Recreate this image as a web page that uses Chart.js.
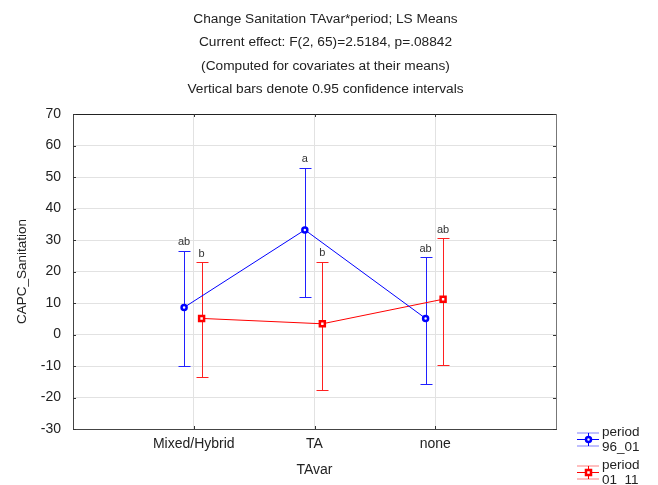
<!DOCTYPE html>
<html>
<head>
<meta charset="utf-8">
<script src="https://cdn.jsdelivr.net/npm/chart.js@4/dist/chart.umd.min.js"></script>
<style>
  html, body { margin: 0; padding: 0; background: #fff; }
  #c { display: block; }
</style>
</head>
<body>
<canvas id="c" width="658" height="485"></canvas>
<script>
// ---- data ----
const categories = ['Mixed/Hybrid', 'TA', 'none'];
const seriesNames = ['period\n96_01', 'period\n01_11'];
const mean96 = [8.6, 33.2, 5.1];
const low96  = [-9.9, 12.0, -15.7];
const high96 = [26.6, 53.0, 24.5];
const letters96 = ['ab', 'a', 'ab'];
const mean01 = [5.1, 3.4, 11.2];
const low01  = [-13.6, -17.6, -9.7];
const high01 = [22.9, 23.1, 30.5];
const letters01 = ['b', 'b', 'ab'];
const yTicks = [-30, -20, -10, 0, 10, 20, 30, 40, 50, 60, 70];
const titleLines = [
  'Change Sanitation TAvar*period; LS Means',
  'Current effect: F(2, 65)=2.5184, p=.08842',
  '(Computed for covariates at their means)',
  'Vertical bars denote 0.95 confidence intervals'
];

// ---- styling ----
const FONT = "'Liberation Sans', Arial, sans-serif";
const BLUE = '#0000ff';
const RED = '#ff0000';
const OFF96 = -0.08, OFF01 = 0.065;

function pts(means, off) { return means.map((m, i) => ({ x: i + 1 + off, y: m })); }

const errorBars = [
  { low: low96, high: high96, letters: letters96, color: '#2020ff', off: OFF96 },
  { low: low01, high: high01, letters: letters01, color: '#ff2020', off: OFF01 }
];

const errorBarPlugin = {
  id: 'errorBars',
  beforeDatasetsDraw(chart) {
    const { ctx, scales: { x, y } } = chart;
    ctx.save();
    ctx.lineWidth = 1;
    errorBars.forEach(eb => {
      ctx.strokeStyle = eb.color;
      eb.low.forEach((lo, i) => {
        const px = Math.round(x.getPixelForValue(i + 1 + eb.off)) + 0.5;
        const yl = Math.round(y.getPixelForValue(lo)) + 0.5;
        const yh = Math.round(y.getPixelForValue(eb.high[i])) + 0.5;
        ctx.beginPath();
        ctx.moveTo(px, yl); ctx.lineTo(px, yh);
        ctx.moveTo(px - 6, yl); ctx.lineTo(px + 6, yl);
        ctx.moveTo(px - 6, yh); ctx.lineTo(px + 6, yh);
        ctx.stroke();
      });
    });
    ctx.restore();
  },
  afterDatasetsDraw(chart) {
    const { ctx, scales: { x, y } } = chart;
    ctx.save();
    ctx.fillStyle = '#333';
    ctx.font = '11px ' + FONT;
    ctx.textAlign = 'center';
    ctx.textBaseline = 'bottom';
    errorBars.forEach(eb => {
      eb.letters.forEach((t, i) => {
        const px = x.getPixelForValue(i + 1 + eb.off);
        const yh = y.getPixelForValue(eb.high[i]);
        ctx.fillText(t, px, yh - 3);
      });
    });
    ctx.restore();
  }
};

const framePlugin = {
  id: 'frame',
  afterDraw(chart) {
    const { ctx, chartArea: a, scales: { x, y } } = chart;
    ctx.save();
    ctx.lineWidth = 1;
    ctx.strokeStyle = '#222';
    ctx.beginPath(); ctx.moveTo(a.left, Math.round(a.top) + 0.5); ctx.lineTo(a.right + 1, Math.round(a.top) + 0.5); ctx.stroke();
    ctx.strokeStyle = '#777';
    ctx.beginPath(); ctx.moveTo(Math.round(a.right) + 0.5, a.top); ctx.lineTo(Math.round(a.right) + 0.5, a.bottom); ctx.stroke();
    ctx.strokeStyle = '#333';
    ctx.beginPath();
    y.ticks.forEach(t => {
      const py = Math.round(y.getPixelForValue(t.value)) + 0.5;
      ctx.moveTo(a.right - 3, py); ctx.lineTo(a.right, py);
      ctx.moveTo(a.left, py); ctx.lineTo(a.left + 3, py);
    });
    x.ticks.forEach(t => {
      const px = Math.round(x.getPixelForValue(t.value)) + 0.5;
      ctx.moveTo(px, a.bottom - 3); ctx.lineTo(px, a.bottom);
      ctx.moveTo(px, a.top); ctx.lineTo(px, a.top + 3);
    });
    ctx.stroke();
    ctx.restore();
  }
};

const legendPlugin = {
  id: 'customLegend',
  afterDraw(chart) {
    const { ctx } = chart;
    ctx.save();
    ctx.font = '13.5px ' + FONT;
    ctx.textBaseline = 'middle';
    ctx.textAlign = 'left';
    chart.data.datasets.forEach((ds, k) => {
      const cy = 439 + k * 33;
      const x0 = 577, x1 = 599, mx = 588;
      ctx.globalAlpha = 0.5;
      ctx.strokeStyle = ds.borderColor;
      ctx.lineWidth = 1;
      ctx.beginPath();
      ctx.moveTo(x0, cy - 6); ctx.lineTo(x1, cy - 6);
      ctx.moveTo(x0, cy + 7); ctx.lineTo(x1, cy + 7);
      ctx.stroke();
      ctx.globalAlpha = 1;
      ctx.beginPath();
      ctx.moveTo(x0, cy + 0.5); ctx.lineTo(x1, cy + 0.5);
      ctx.moveTo(mx + 0.5, cy - 6); ctx.lineTo(mx + 0.5, cy + 7);
      ctx.stroke();
      ctx.lineWidth = 2.5;
      ctx.fillStyle = '#fff';
      ctx.beginPath();
      if (ds.pointStyle === 'rect') {
        ctx.rect(mx + 0.5 - 2.5, cy + 0.5 - 2.5, 5, 5);
      } else {
        ctx.arc(mx + 0.5, cy + 0.5, 2.5, 0, Math.PI * 2);
      }
      ctx.fill(); ctx.stroke();
      ctx.fillStyle = '#222';
      const lines = ds.label.split('\n');
      lines.forEach((ln, j) => ctx.fillText(ln, 602, cy - 7 + j * 15));
    });
    ctx.restore();
  }
};

new Chart(document.getElementById('c'), {
  type: 'line',
  data: {
    datasets: [
      {
        label: seriesNames[0],
        data: pts(mean96, OFF96),
        borderColor: BLUE, backgroundColor: '#fff',
        borderWidth: 1, pointStyle: 'circle',
        pointRadius: 2.5, pointBorderWidth: 2.5, pointBackgroundColor: '#fff',
        pointBorderColor: BLUE, tension: 0
      },
      {
        label: seriesNames[1],
        data: pts(mean01, OFF01),
        borderColor: RED, backgroundColor: '#fff',
        borderWidth: 1, pointStyle: 'rect',
        pointRadius: 3.5, pointBorderWidth: 2.5, pointBackgroundColor: '#fff',
        pointBorderColor: RED, tension: 0
      }
    ]
  },
  options: {
    responsive: false,
    animation: false,
    events: [],
    layout: { padding: { left: 0, right: 7, top: 0, bottom: 0 } },
    plugins: {
      legend: { display: false },
      tooltip: { enabled: false },
      title: {
        display: true,
        text: titleLines,
        color: '#222',
        font: { family: FONT, size: 13.7, weight: 'normal', lineHeight: 23.5 / 13.7 },
        padding: { top: 7, bottom: 13 }
      }
    },
    scales: {
      x: {
        type: 'linear',
        min: 0, max: 4,
        afterBuildTicks: s => { s.ticks = categories.map((c, i) => ({ value: i + 1 })); },
        afterFit: s => { s.height = 56; },
        ticks: {
          callback: v => categories[v - 1],
          color: '#222', font: { family: FONT, size: 14 }, padding: 7, maxRotation: 0, autoSkip: false
        },
        grid: { color: '#e2e2e2', drawTicks: false },
        border: { color: '#444', width: 1 },
        title: { display: true, text: 'TAvar', color: '#222', font: { family: FONT, size: 14 }, padding: { top: 0, bottom: 6 } }
      },
      y: {
        min: -30, max: 70,
        afterBuildTicks: s => { s.ticks = yTicks.map(v => ({ value: v })); },
        afterFit: s => { s.width = 73; },
        ticks: { color: '#222', font: { family: FONT, size: 14 }, padding: 12 },
        grid: { color: '#e2e2e2', drawTicks: false },
        border: { color: '#444', width: 1 },
        title: { display: true, text: 'CAPC_Sanitation', color: '#222', font: { family: FONT, size: 13.5 }, padding: { top: 14, bottom: 0 } }
      },
      yRightSpace: {
        position: 'right',
        display: true,
        min: 0, max: 1,
        afterFit: s => { s.width = 95; },
        ticks: { display: false },
        grid: { display: false, drawTicks: false },
        border: { display: false }
      }
    }
  },
  plugins: [errorBarPlugin, framePlugin, legendPlugin]
});
</script>
</body>
</html>
